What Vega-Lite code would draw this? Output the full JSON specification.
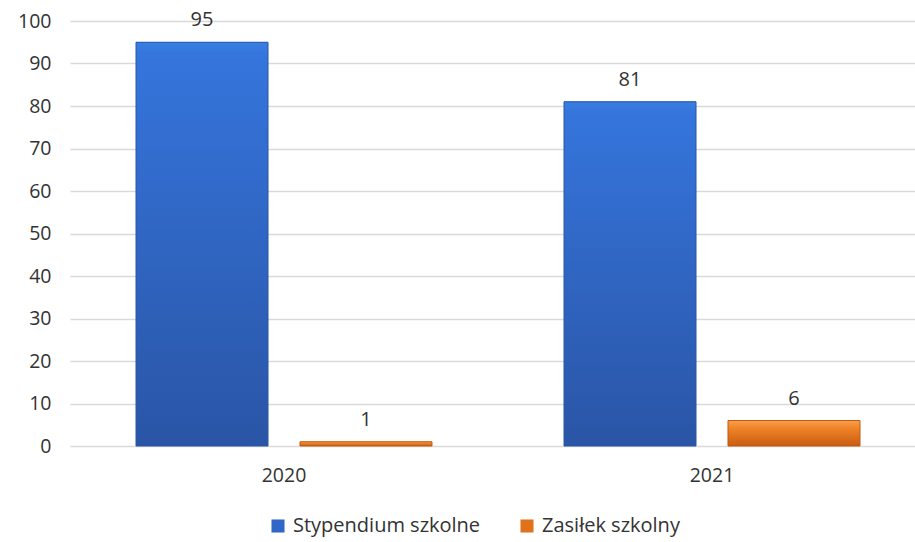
{
  "$schema": "https://vega.github.io/schema/vega-lite/v6.json",
  "autosize": {"type": "none"},
  "width": 845,
  "height": 425,
  "padding": {"left": 70, "top": 21, "right": 0, "bottom": 96},
  "background": "white",
  "config": {
    "view": {"stroke": null},
    "font": "Open Sans",
    "axis": {"labelFont": "Open Sans", "labelFontSize": 19.5, "labelColor": "#333333"},
    "legend": {"labelFont": "Open Sans", "labelFontSize": 20, "labelColor": "#333333", "labelLimit": 400}
  },
  "data": {
    "values": [
      {"Rok": "2020", "Seria": "Stypendium szkolne", "Liczba": 95},
      {"Rok": "2020", "Seria": "Zasiłek szkolny", "Liczba": 1},
      {"Rok": "2021", "Seria": "Stypendium szkolne", "Liczba": 81},
      {"Rok": "2021", "Seria": "Zasiłek szkolny", "Liczba": 6}
    ]
  },
  "encoding": {
    "x": {
      "field": "Rok", "type": "nominal",
      "scale": {"range": [0, 856], "paddingInner": 0, "paddingOuter": 0},
      "axis": {"title": null, "labelAngle": 0, "domain": false, "ticks": false, "labelPadding": 20, "grid": false}
    },
    "xOffset": {
      "field": "Seria", "type": "nominal",
      "sort": ["Stypendium szkolne", "Zasiłek szkolny"],
      "scale": {"paddingInner": 0.195, "paddingOuter": 0.4025}
    },
    "y": {
      "field": "Liczba", "type": "quantitative",
      "scale": {"domain": [0, 100], "nice": false},
      "axis": {"title": null, "values": [0,10,20,30,40,50,60,70,80,90,100], "domain": false, "ticks": false, "labelPadding": 19, "grid": true, "gridColor": "#d9d9d9", "gridWidth": 1.3}
    }
  },
  "layer": [
    {
      "mark": {"type": "bar"},
      "encoding": {
        "color": {
          "field": "Seria", "type": "nominal",
          "scale": {"domain": ["Stypendium szkolne", "Zasiłek szkolny"], "range": ["#2f66c8", "#e0721c"]},
          "legend": {"title": null, "orient": "none", "direction": "horizontal", "legendX": 198, "legendY": 495, "symbolType": "square", "symbolSize": 170, "symbolStrokeWidth": 0, "labelOffset": 5, "columnPadding": 36}
        }
      }
    },
    {
      "transform": [{"filter": "datum.Seria === 'Stypendium szkolne'"}],
      "mark": {
        "type": "bar",
        "stroke": "#2a56a8", "strokeWidth": 1,
        "fill": {"gradient": "linear", "x1": 0, "y1": 0, "x2": 0, "y2": 1,
          "stops": [{"offset": 0, "color": "#3a7ee2"}, {"offset": 0.03, "color": "#3575dc"}, {"offset": 1, "color": "#2a55a6"}]}
      }
    },
    {
      "transform": [{"filter": "datum.Seria === 'Zasiłek szkolny'"}],
      "mark": {
        "type": "bar",
        "stroke": "#c05a12", "strokeWidth": 1,
        "fill": {"gradient": "linear", "x1": 0, "y1": 0, "x2": 0, "y2": 1,
          "stops": [{"offset": 0, "color": "#f8a04a"}, {"offset": 0.3, "color": "#f08428"}, {"offset": 1, "color": "#c85c12"}]}
      }
    },
    {
      "mark": {"type": "text", "baseline": "bottom", "dy": -12, "fontSize": 20, "color": "#333333", "font": "Open Sans"},
      "encoding": {"text": {"field": "Liczba", "type": "quantitative"}}
    }
  ]
}
